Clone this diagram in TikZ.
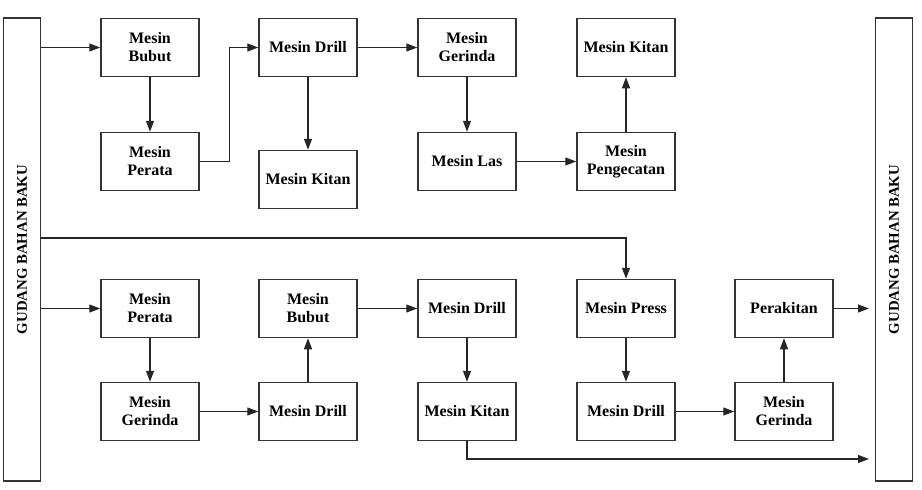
\documentclass[tikz,border=0pt]{standalone}
\usepackage{fontspec}
\setmainfont{Liberation Serif}
\usetikzlibrary{arrows.meta,positioning}
\begin{document}
\begin{tikzpicture}[x=1pt,y=-1pt,
  box/.style={draw=black!80, line width=1.5pt, fill=white, minimum width=98pt, minimum height=58pt, inner sep=0pt, align=center, font=\fontsize{16}{18}\selectfont\bfseries},
  bar/.style={draw=black!80, line width=1.5pt, fill=white, minimum width=37pt, minimum height=463pt, inner sep=0pt},
  bartext/.style={rotate=90, font=\fontsize{14.8}{17}\selectfont\bfseries},
  conn/.style={draw=black!85, line width=1.2pt, -{Triangle[length=11pt,width=8pt]}},
  plain/.style={draw=black!85, line width=1.2pt}
]
\useasboundingbox (0,0) rectangle (922,490);
% bars
\node[bar] (gl) at (22,249.5) {};
\node[bartext] (gltext) at (22,249.5) {GUDANG BAHAN BAKU};
\node[bar] (gr) at (894,249.5) {};
\node[bartext] (grtext) at (894,249.5) {GUDANG BAHAN BAKU};
% top part
\node[box] (bubutA) at (150,47.5) {Mesin\\Bubut};
\node[box] (drillA) at (308,47.5) {Mesin Drill};
\node[box] (gerindaA) at (467,47.5) {Mesin\\Gerinda};
\node[box] (kitanA) at (626,47.5) {Mesin Kitan};
\node[box] (perataA) at (150,161.5) {Mesin\\Perata};
\node[box] (kitanB) at (308,179.5) {Mesin Kitan};
\node[box] (las) at (467,161.5) {Mesin Las};
\node[box] (cat) at (626,161.5) {Mesin\\Pengecatan};
% bottom part
\node[box] (perataB) at (150,308.5) {Mesin\\Perata};
\node[box] (bubutB) at (308,308.5) {Mesin\\Bubut};
\node[box] (drillB) at (467,308.5) {Mesin Drill};
\node[box] (press) at (626,308.5) {Mesin Press};
\node[box] (rakit) at (784,308.5) {Perakitan};
\node[box] (gerindaB) at (150,411.5) {Mesin\\Gerinda};
\node[box] (drillC) at (308,411.5) {Mesin Drill};
\node[box] (kitanC) at (467,411.5) {Mesin Kitan};
\node[box] (drillD) at (626,411.5) {Mesin Drill};
\node[box] (gerindaC) at (784,411.5) {Mesin\\Gerinda};
% helper coordinates
\coordinate (longY) at (0,238);
\coordinate (botY) at (0,459);
\coordinate (endA) at (869,308.5);
\coordinate (endB) at (869,459);
% connectors top
\draw[conn] (gl.east |- bubutA.west) -- (bubutA.west);
\draw[conn] (bubutA.south) -- (perataA.north);
\draw[conn] (perataA.east) -- ++(30,0) |- (drillA.west);
\draw[conn] (drillA.east) -- (gerindaA.west);
\draw[conn] (drillA.south) -- (kitanB.north);
\draw[conn] (gerindaA.south) -- (las.north);
\draw[conn] (las.east) -- (cat.west);
\draw[conn] (cat.north) -- (kitanA.south);
% long line
\draw[conn] (gl.east |- longY) -| (press.north);
% connectors bottom
\draw[conn] (gl.east |- perataB.west) -- (perataB.west);
\draw[conn] (perataB.south) -- (gerindaB.north);
\draw[conn] (gerindaB.east) -- (drillC.west);
\draw[conn] (drillC.north) -- (bubutB.south);
\draw[conn] (bubutB.east) -- (drillB.west);
\draw[conn] (drillB.south) -- (kitanC.north);
\draw[conn] (kitanC.south) |- (endB);
\draw[conn] (press.south) -- (drillD.north);
\draw[conn] (drillD.east) -- (gerindaC.west);
\draw[conn] (gerindaC.north) -- (rakit.south);
\draw[conn] (rakit.east) -- (endA);
\end{tikzpicture}
\end{document}
